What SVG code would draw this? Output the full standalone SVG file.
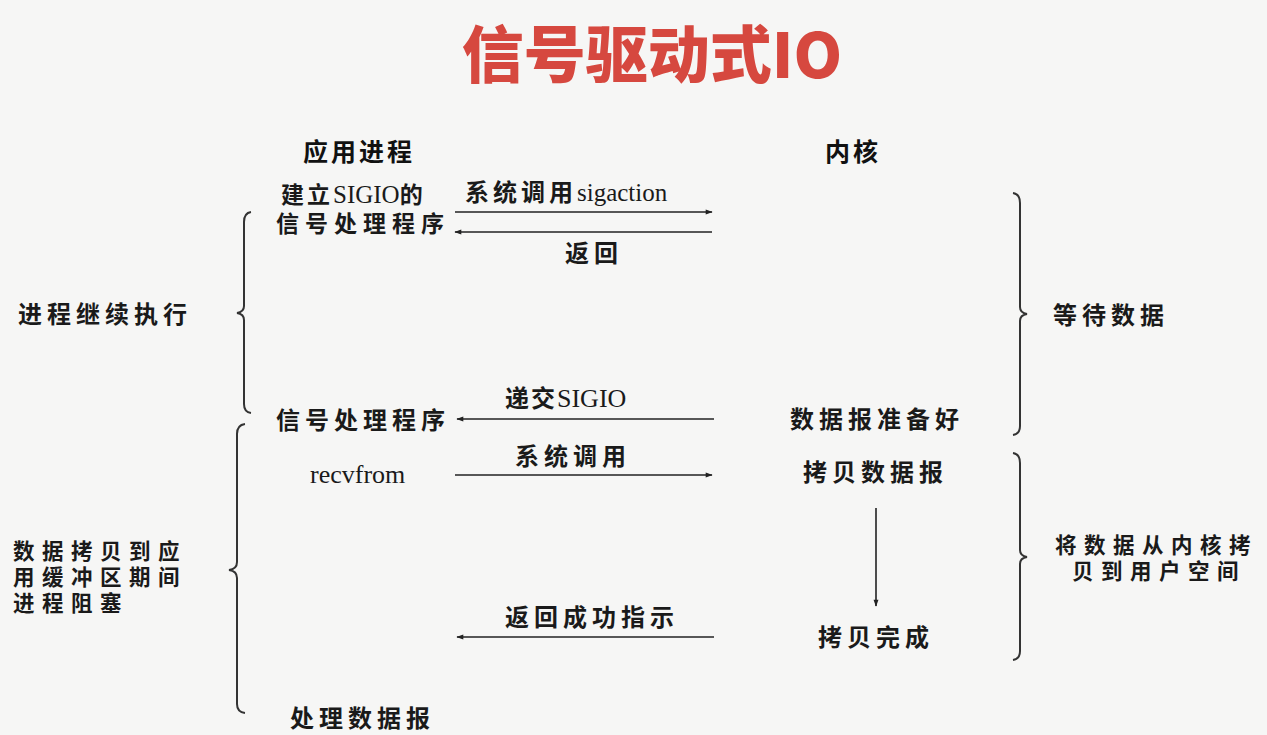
<svg xmlns="http://www.w3.org/2000/svg" width="1267" height="735" viewBox="0 0 1267 735">
<defs>
<style>
.t{font-family:"Noto Sans CJK SC","Noto Sans",sans-serif;font-size:24px;font-weight:bold;fill:#1a1a1a;letter-spacing:5px}
.m{font-family:"Liberation Sans","Noto Sans CJK SC",sans-serif;font-size:23px;letter-spacing:6px}
.n{font-family:"Liberation Sans","Noto Sans CJK SC",sans-serif;font-size:21.5px;letter-spacing:7.5px}
.s{font-family:"Liberation Serif","Noto Serif",serif;font-weight:normal;letter-spacing:0}
.h{font-family:"Noto Sans CJK SC",sans-serif;font-size:25px;font-weight:bold;fill:#111;letter-spacing:3px}
.title{font-family:"Noto Sans CJK SC","Noto Sans",sans-serif;font-size:62px;font-weight:900;fill:#d6483f}
.ln{stroke:#222;stroke-width:1.6;fill:none}
.br{stroke:#333;stroke-width:2;fill:none}
</style>
<marker id="ah" viewBox="0 0 10 10" refX="9" refY="5" markerWidth="9" markerHeight="7" markerUnits="userSpaceOnUse" orient="auto">
<path d="M0,1.5 L10,5 L0,8.5 Z" fill="#222"/>
</marker>
</defs>
<rect width="1267" height="735" fill="#f6f6f5"/>
<text class="title" x="652" y="78" text-anchor="middle">信号驱动式IO</text>

<g id="hdr-app"><text class="h" x="303" y="161">应用进程</text></g>
<g id="hdr-kernel"><text class="h" x="825" y="161">内核</text></g>

<g id="n-setup">
<text class="t m" x="281" y="203" style="letter-spacing:3px">建立<tspan class="s" style="font-size:25px">SIGIO</tspan>的</text>
<text class="t m" x="276" y="232">信号处理程序</text>
</g>
<g id="n-handler"><text class="t" x="276" y="429">信号处理程序</text></g>
<g id="n-recvfrom"><text class="t s" x="310" y="483" style="font-size:26px">recvfrom</text></g>
<g id="n-process"><text class="t" x="290" y="727">处理数据报</text></g>
<g id="n-ready"><text class="t" x="790" y="428">数据报准备好</text></g>
<g id="n-copy"><text class="t" x="803" y="481">拷贝数据报</text></g>
<g id="n-done"><text class="t" x="818" y="646">拷贝完成</text></g>

<g id="n-left1">
<path class="br" d="M251,212 Q244,213 244,222 L244,306 Q244,312 237,313 Q244,314 244,320 L244,404 Q244,412 251,413"/>
<text class="t" x="18" y="323">进程继续执行</text>
</g>
<g id="n-left2">
<path class="br" d="M245,424 Q237,425 237,434 L237,562 Q237,569 229,570 Q237,571 237,578 L237,704 Q237,712 245,713"/>
<text class="t n" x="13" y="559">数据拷贝到应</text>
<text class="t n" x="13" y="585">用缓冲区期间</text>
<text class="t n" x="13" y="611">进程阻塞</text>
</g>
<g id="n-right1">
<path class="br" d="M1013,193 Q1020,194 1020,203 L1020,307 Q1020,313 1027,314 Q1020,315 1020,321 L1020,426 Q1020,434 1013,435"/>
<text class="t" x="1053" y="324">等待数据</text>
</g>
<g id="n-right2">
<path class="br" d="M1013,453 Q1020,454 1020,463 L1020,550 Q1020,556 1027,557 Q1020,558 1020,564 L1020,651 Q1020,659 1013,660"/>
<text class="t n" x="1055" y="553">将数据从内核拷</text>
<text class="t n" x="1072" y="579">贝到用户空间</text>
</g>

<g id="connectors">
<line class="ln" x1="455" y1="212" x2="712" y2="212" marker-end="url(#ah)"/>
<text class="t" x="465" y="201" style="letter-spacing:4px">系统调用<tspan class="s" style="font-size:25px">sigaction</tspan></text>
<line class="ln" x1="712" y1="232" x2="455" y2="232" marker-end="url(#ah)"/>
<text class="t" x="565" y="262">返回</text>
<line class="ln" x1="714" y1="419" x2="457" y2="419" marker-end="url(#ah)"/>
<text class="t" x="505" y="407" style="letter-spacing:2px">递交<tspan class="s" style="font-size:26px">SIGIO</tspan></text>
<line class="ln" x1="455" y1="475" x2="712" y2="475" marker-end="url(#ah)"/>
<text class="t" x="515" y="465">系统调用</text>
<line class="ln" x1="876" y1="508" x2="876" y2="606" marker-end="url(#ah)"/>
<line class="ln" x1="714" y1="637" x2="457" y2="637" marker-end="url(#ah)"/>
<text class="t" x="505" y="626">返回成功指示</text>
</g>
</svg>
